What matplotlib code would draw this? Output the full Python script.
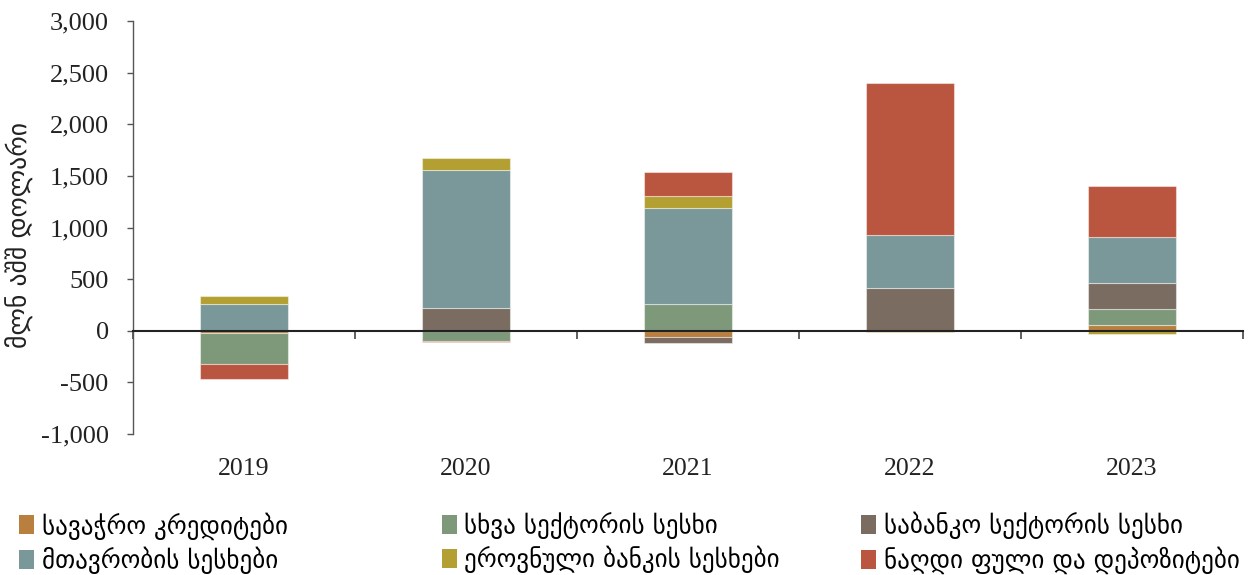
import matplotlib
matplotlib.use("Agg")
import matplotlib.pyplot as plt
import matplotlib.patches as mpatches
import numpy as np

years = ["2019", "2020", "2021", "2022", "2023"]
series_names = [
    "სავაჭრო კრედიტები",
    "სხვა სექტორის სესხი",
    "საბანკო სექტორის სესხი",
    "მთავრობის სესხები",
    "ეროვნული ბანკის სესხები",
    "ნაღდი ფული და დეპოზიტები",
]
trade_credits = [-25, 0, -65, 0, 55]
other_sector = [-297, -100, 258, 0, 155]
bank_sector = [0, 225, -55, 413, 248]
government = [258, 1333, 935, 516, 452]
national_bank = [83, 113, 113, -15, -30]
cash_deposits = [-142, -5, 230, 1471, 490]
yticks = [-1000, -500, 0, 500, 1000, 1500, 2000, 2500, 3000]
ylabel = "მლნ აშშ დოლარი"

colors = ["#B97F3F", "#7D997A", "#7A6C60", "#7A9899", "#B4A032", "#BA5640"]
series = [trade_credits, other_sector, bank_sector, government, national_bank, cash_deposits]

serif = ["Liberation Serif", "DejaVu Serif"]
geo = ["DejaVu Sans"]

fig = plt.figure(figsize=(12.52, 5.75), dpi=100)
ax = fig.add_axes([133 / 1252, 1 - 434 / 575, (1243 - 133) / 1252, (434 - 21) / 575])

x = np.arange(len(years))
pos_base = np.zeros(len(years))
neg_base = np.zeros(len(years))
handles = []
for vals, col, name in zip(series, colors, series_names):
    v = np.array(vals, dtype=float)
    bottom = np.where(v >= 0, pos_base, neg_base)
    ax.bar(x, v, width=0.4, bottom=bottom, color=col, edgecolor=(1, 1, 1, 0.45),
           linewidth=0.8, zorder=2)
    pos_base += np.where(v >= 0, v, 0)
    neg_base += np.where(v < 0, v, 0)
    handles.append(mpatches.Patch(facecolor=col, edgecolor="none", label=name))

ax.set_xlim(-0.5, 4.5)
ax.set_ylim(-1000, 3000)
ax.set_yticks(yticks)
ax.set_yticklabels([f"{t:,}" for t in yticks], fontfamily=serif, fontsize=19, color="#222222")
ax.tick_params(axis="y", direction="out", length=4.5, width=1, color="#555555", pad=13)

for s in ["top", "right"]:
    ax.spines[s].set_visible(False)
ax.spines["left"].set_color("#555555")
ax.spines["left"].set_linewidth(1)
ax.spines["bottom"].set_position(("data", 0))
ax.spines["bottom"].set_color("#222222")
ax.spines["bottom"].set_linewidth(1.5)
ax.spines["bottom"].set_zorder(3)

ax.set_xticks(np.arange(-0.5, 5.0, 1.0))
ax.set_xticklabels([])
ax.tick_params(axis="x", direction="out", length=6, width=1.2, color="#444444")

for xi, yr in zip(x, years):
    ax.text(xi, -0.085, yr, transform=ax.get_xaxis_transform(), ha="center", va="center",
            fontfamily=serif, fontsize=18.5, color="#222222")

fig.text(20 / 1252, 1 - 235 / 575, ylabel, rotation=90, ha="center", va="center",
         fontfamily=geo, fontsize=18.5, color="#222222")

col_x = [19 / 1252, 442 / 1252, 861 / 1252]
for ci in range(3):
    hs = [handles[ci], handles[ci + 3]]
    fig.legend(handles=hs, loc="upper left", bbox_to_anchor=(col_x[ci], 1 - 512 / 575),
               ncol=1, frameon=False, handlelength=0.6, handleheight=0.8,
               handletextpad=0.3, labelspacing=0.28, borderpad=0, borderaxespad=0,
               prop={"family": geo, "size": 18})

fig.savefig("out.png", dpi=100)
